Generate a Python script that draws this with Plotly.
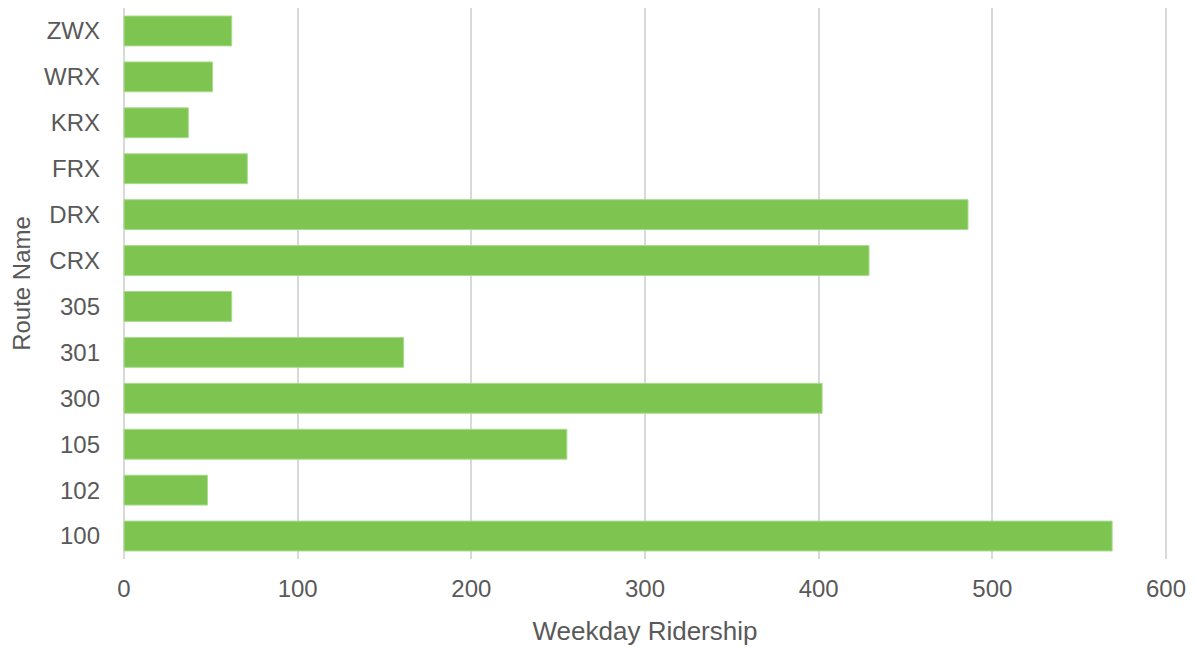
import plotly.graph_objects as go

routes = ["100", "102", "105", "300", "301", "305", "CRX", "DRX", "FRX", "KRX", "WRX", "ZWX"]
ridership = [569, 48, 255, 402, 161, 62, 429, 486, 71, 37, 51, 62]
x_ticks = [0, 100, 200, 300, 400, 500, 600]

text_color = "#595959"
font_family = "Liberation Sans, Arial, sans-serif"

fig = go.Figure(
    go.Bar(
        x=ridership,
        y=routes,
        orientation="h",
        marker=dict(color="#7DC451", line=dict(color="#A9DB8C", width=1)),
    )
)

fig.update_layout(
    width=1196,
    height=647,
    margin=dict(l=123, r=29, t=8, b=88),
    plot_bgcolor="white",
    paper_bgcolor="white",
    bargap=0.35,
    showlegend=False,
    font=dict(family=font_family, size=24, color=text_color),
)

fig.update_xaxes(
    range=[-0.6, 600.6],
    tickvals=x_ticks,
    ticktext=[str(v) for v in x_ticks],
    showgrid=True,
    gridcolor="#D9D9D9",
    gridwidth=2,
    zeroline=False,
    showline=False,
    ticklabelstandoff=13,
    tickfont=dict(size=24, color=text_color),
    title=dict(text="Weekday Ridership", font=dict(size=26, color=text_color), standoff=20),
)

fig.update_yaxes(
    categoryorder="array",
    categoryarray=routes,
    showgrid=False,
    zeroline=False,
    showline=False,
    ticklabelstandoff=22,
    tickfont=dict(size=24, color=text_color),
    title=dict(text="Route Name", font=dict(size=24, color=text_color), standoff=6),
)

fig.write_html("out.html")
